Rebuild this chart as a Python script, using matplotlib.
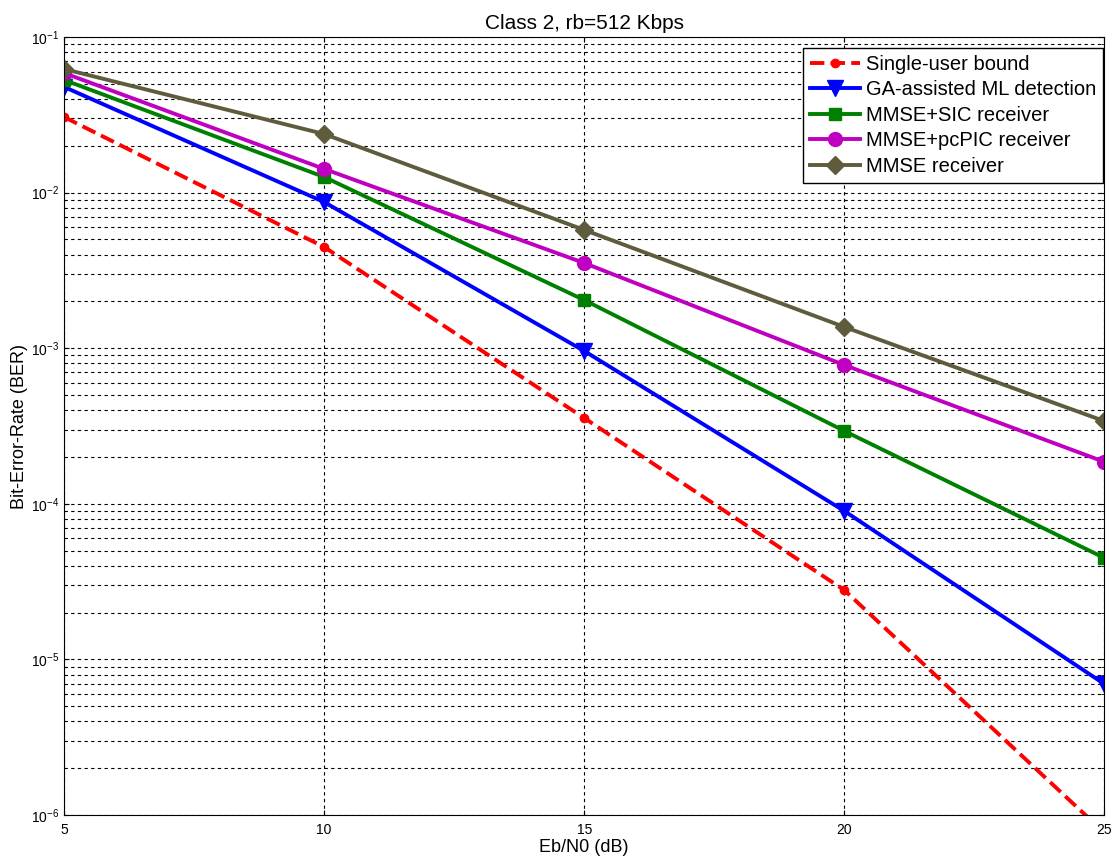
import numpy as np
import matplotlib.pyplot as plt
from matplotlib.ticker import LogLocator, NullFormatter, FixedLocator

plt.rcParams['font.family'] = ['Liberation Sans', 'DejaVu Sans']

ebn0 = [5, 10, 15, 20, 25]
ber_single = [3.06e-2, 4.47e-3, 3.56e-4, 2.79e-5, 7.7e-7]
ber_ga = [4.78e-2, 8.7e-3, 9.6e-4, 9.0e-5, 6.95e-6]
ber_sic = [5.3e-2, 1.26e-2, 2.04e-3, 2.94e-4, 4.49e-5]
ber_pcpic = [5.87e-2, 1.42e-2, 3.53e-3, 7.8e-4, 1.86e-4]
ber_mmse = [6.23e-2, 2.38e-2, 5.76e-3, 1.37e-3, 3.4e-4]

fig = plt.figure(figsize=(11.12, 8.61), dpi=100)
ax = fig.add_axes([0.0576, 0.0534, 0.9355, 0.9036])

ax.semilogy(ebn0, ber_single, '--', color='red', lw=2.8, marker='o', ms=6,
            label='Single-user bound')
ax.semilogy(ebn0, ber_ga, '-', color='blue', lw=2.8, marker='v', ms=11,
            label='GA-assisted ML detection')
ax.semilogy(ebn0, ber_sic, '-', color='green', lw=2.8, marker='s', ms=9,
            label='MMSE+SIC receiver')
ax.semilogy(ebn0, ber_pcpic, '-', color='#c000c0', lw=2.8, marker='o', ms=10,
            label='MMSE+pcPIC receiver')
ax.semilogy(ebn0, ber_mmse, '-', color='#5f5b3d', lw=2.8, marker='D', ms=9,
            label='MMSE receiver')

ax.set_xlim(5, 25)
ax.set_ylim(1e-6, 1e-1)
ax.xaxis.set_major_locator(FixedLocator([5, 10, 15, 20, 25]))
ax.yaxis.set_major_locator(LogLocator(base=10, numticks=10))
ax.yaxis.set_minor_locator(LogLocator(base=10, subs=np.arange(2, 10), numticks=20))
ax.yaxis.set_minor_formatter(NullFormatter())

ax.grid(True, which='major', axis='x', color='black', linestyle=(0, (3, 3)), lw=0.8)
ax.grid(True, which='both', axis='y', color='black', linestyle=(0, (3, 3)), lw=0.8)
ax.tick_params(which='both', direction='in', top=True, right=True, labelsize=10)
ax.tick_params(axis='x', pad=6)

ax.set_title('Class 2, rb=512 Kbps', fontsize=15)
ax.set_xlabel('Eb/N0 (dB)', fontsize=13, labelpad=1)
ax.set_ylabel('Bit-Error-Rate (BER)', fontsize=13, labelpad=2)

leg = ax.legend(loc='upper right', bbox_to_anchor=(0.999, 0.986), borderaxespad=0,
                fontsize=14.5, fancybox=False, framealpha=1, edgecolor='black',
                handlelength=2.5, labelspacing=0.32, handletextpad=0.3,
                borderpad=0.35)
leg.get_frame().set_linewidth(1.0)

fig.savefig('out.png', dpi=100)
